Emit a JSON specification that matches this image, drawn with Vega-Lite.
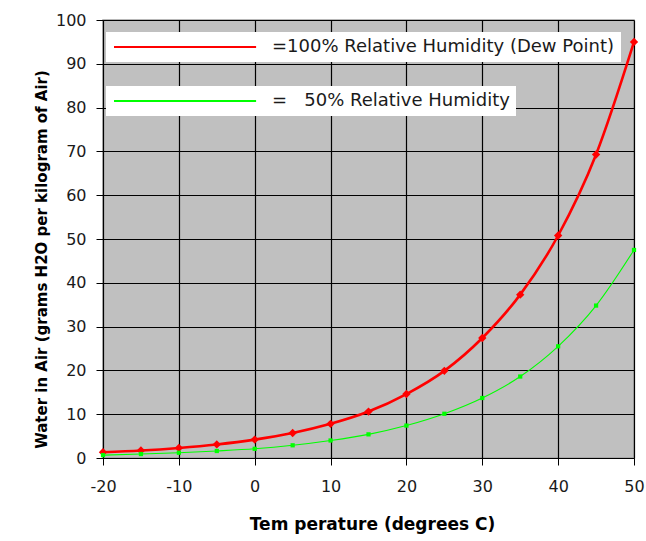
{
  "$schema": "https://vega.github.io/schema/vega-lite/v6.json",
  "width": 531,
  "height": 438,
  "autosize": {"type": "none"},
  "padding": {"left": 103, "top": 20, "right": 12, "bottom": 83},
  "background": "white",
  "config": {
    "font": "DejaVu Sans",
    "view": {"fill": "#C0C0C0", "stroke": "#A0A0A0", "strokeWidth": 1.5},
    "axis": {
      "labelFont": "DejaVu Sans",
      "labelFontSize": 16,
      "labelColor": "#1a1a1a",
      "labelFlush": false,
      "titleFont": "DejaVu Sans",
      "titleFontWeight": "bold",
      "titleColor": "#000000",
      "domainColor": "#000000",
      "domainWidth": 1,
      "tickColor": "#000000",
      "tickSize": 7,
      "tickWidth": 1,
      "gridColor": "#000000",
      "gridWidth": 1.2,
      "gridOpacity": 1
    },
    "legend": {
      "orient": "none",
      "fillColor": "white",
      "strokeColor": null,
      "labelFont": "DejaVu Sans",
      "labelFontSize": 18,
      "labelColor": "#1a1a1a",
      "labelLimit": 0,
      "symbolType": "M-1,0H19.3",
      "symbolSize": 196,
      "symbolStrokeWidth": 2,
      "labelOffset": 142,
      "padding": 6,
      "title": null
    }
  },
  "data": {
    "values": [
      {"T": -20, "series": "100", "W": 1.3},
      {"T": -15, "series": "100", "W": 1.7},
      {"T": -10, "series": "100", "W": 2.3},
      {"T": -5, "series": "100", "W": 3.1},
      {"T": 0, "series": "100", "W": 4.2},
      {"T": 5, "series": "100", "W": 5.7},
      {"T": 10, "series": "100", "W": 7.8},
      {"T": 15, "series": "100", "W": 10.6},
      {"T": 20, "series": "100", "W": 14.6},
      {"T": 25, "series": "100", "W": 19.9},
      {"T": 30, "series": "100", "W": 27.4},
      {"T": 35, "series": "100", "W": 37.3},
      {"T": 40, "series": "100", "W": 50.8},
      {"T": 45, "series": "100", "W": 69.3},
      {"T": 50, "series": "100", "W": 95.0},
      {"T": -20, "series": "50", "W": 0.65},
      {"T": -15, "series": "50", "W": 0.9},
      {"T": -10, "series": "50", "W": 1.2},
      {"T": -5, "series": "50", "W": 1.6},
      {"T": 0, "series": "50", "W": 2.1},
      {"T": 5, "series": "50", "W": 2.9},
      {"T": 10, "series": "50", "W": 4.0},
      {"T": 15, "series": "50", "W": 5.4},
      {"T": 20, "series": "50", "W": 7.4},
      {"T": 25, "series": "50", "W": 10.1},
      {"T": 30, "series": "50", "W": 13.7},
      {"T": 35, "series": "50", "W": 18.6},
      {"T": 40, "series": "50", "W": 25.5},
      {"T": 45, "series": "50", "W": 34.8},
      {"T": 50, "series": "50", "W": 47.5}
    ]
  },
  "encoding": {
    "x": {
      "field": "T", "type": "quantitative",
      "scale": {"domain": [-20, 50], "nice": false, "zero": false},
      "axis": {
        "values": [-20, -10, 0, 10, 20, 30, 40, 50],
        "labelExpr": "datum.value + ''",
        "labelPadding": 13,
        "title": "Tem perature (degrees C)",
        "titleFontSize": 17,
        "titlePadding": 22,
        "titleX": 269
      }
    },
    "y": {
      "field": "W", "type": "quantitative",
      "scale": {"domain": [0, 100], "nice": false},
      "axis": {
        "values": [0, 10, 20, 30, 40, 50, 60, 70, 80, 90, 100],
        "labelPadding": 10,
        "title": "Water in Air (grams H2O per kilogram of Air)",
        "titleFontSize": 15,
        "titleX": -62,
        "titleY": 239,
        "titleBaseline": "middle",
        "titleAlign": "center",
        "titleAngle": 270
      }
    }
  },
  "layer": [
    {
      "transform": [{"filter": "datum.series === '100'"}],
      "mark": {"type": "line", "interpolate": "monotone", "strokeWidth": 2.6},
      "encoding": {
        "color": {
          "field": "series", "type": "nominal",
          "scale": {"domain": ["100"], "range": ["#FF0000"]},
          "legend": {
            "legendX": 3, "legendY": 12,
            "labelExpr": "'=100% Relative Humidity (Dew Point)'",
            "encode": {"symbols": {"update": {"strokeWidth": {"value": 2}}}}
          }
        }
      }
    },
    {
      "transform": [{"filter": "datum.series === '100'"}],
      "mark": {"type": "point", "shape": "diamond", "filled": true, "color": "#FF0000", "size": 70, "opacity": 1},
      "encoding": {}
    },
    {
      "transform": [{"filter": "datum.series === '50'"}],
      "mark": {"type": "line", "interpolate": "monotone", "strokeWidth": 1.1},
      "encoding": {
        "color": {
          "field": "series", "type": "nominal",
          "scale": {"domain": ["50"], "range": ["#00FF00"]},
          "legend": {
            "legendX": 3, "legendY": 66,
            "labelExpr": "'=\u00a0\u00a0\u00a050% Relative Humidity'",
            "encode": {"symbols": {"update": {"strokeWidth": {"value": 2.2}}}}
          }
        }
      }
    },
    {
      "transform": [{"filter": "datum.series === '50'"}],
      "mark": {"type": "point", "shape": "square", "filled": true, "color": "#00FF00", "size": 18, "opacity": 1},
      "encoding": {}
    }
  ],
  "resolve": {"scale": {"color": "independent"}}
}
